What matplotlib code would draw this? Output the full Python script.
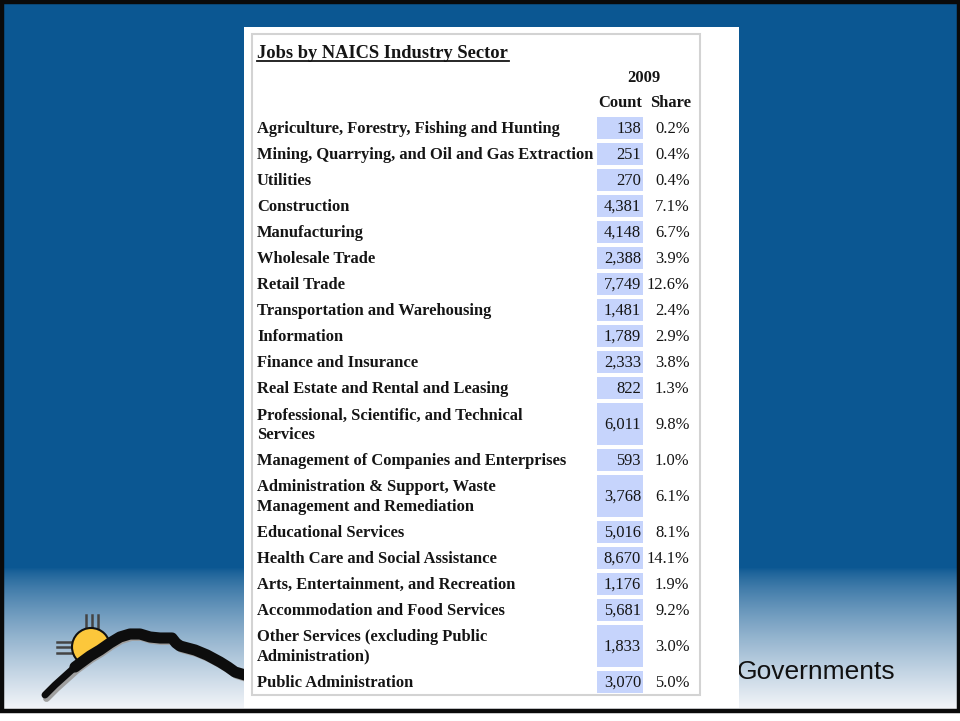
import numpy as np
import matplotlib
matplotlib.use("Agg")
import matplotlib.pyplot as plt
from matplotlib.patches import Rectangle, Circle, Polygon

# ---------------- data ----------------
title = "Jobs by NAICS Industry Sector"
year_label = "2009"
col_headers = ["Count", "Share"]
categories = [
    "Agriculture, Forestry, Fishing and Hunting",
    "Mining, Quarrying, and Oil and Gas Extraction",
    "Utilities",
    "Construction",
    "Manufacturing",
    "Wholesale Trade",
    "Retail Trade",
    "Transportation and Warehousing",
    "Information",
    "Finance and Insurance",
    "Real Estate and Rental and Leasing",
    "Professional, Scientific, and Technical\nServices",
    "Management of Companies and Enterprises",
    "Administration & Support, Waste\nManagement and Remediation",
    "Educational Services",
    "Health Care and Social Assistance",
    "Arts, Entertainment, and Recreation",
    "Accommodation and Food Services",
    "Other Services (excluding Public\nAdministration)",
    "Public Administration",
]
counts = [138, 251, 270, 4381, 4148, 2388, 7749, 1481, 1789, 2333, 822,
          6011, 593, 3768, 5016, 8670, 1176, 5681, 1833, 3070]
shares = [0.2, 0.4, 0.4, 7.1, 6.7, 3.9, 12.6, 2.4, 2.9, 3.8, 1.3,
          9.8, 1.0, 6.1, 8.1, 14.1, 1.9, 9.2, 3.0, 5.0]
footer_text = "Governments"

# ---------------- figure ----------------
W, H = 960, 721
fig = plt.figure(figsize=(W / 100, H / 100), dpi=100)
ax = fig.add_axes([0, 0, 1, 1])
ax.set_xlim(0, W)
ax.set_ylim(H, 0)
ax.axis("off")

# background: solid blue then gradient to white
blue = np.array([11, 87, 146]) / 255.0
white = np.array([246, 247, 250]) / 255.0
g0, g1 = 568, 712
grad = np.zeros((721, 1, 3))
for i, yy in enumerate(np.linspace(0, H, 721)):
    t = np.clip((yy - g0) / (g1 - g0), 0, 1) ** 0.75
    grad[i, 0] = blue * (1 - t) + white * t
ax.imshow(grad, extent=[0, W, H, 0], aspect="auto", zorder=0)
ax.add_patch(Rectangle((0, 710), W, 11, facecolor="white", edgecolor="none", zorder=1))
# black frame
ax.add_patch(Rectangle((1.5, 1.5), W - 3, 709, facecolor="none",
                       edgecolor="#0a0a0a", linewidth=3.2, zorder=2))

# logo: mountain line + sun
mx = [45, 55, 65, 75, 90, 100, 110, 120, 130, 140, 150, 160, 172, 176, 180,
      195, 207, 220, 228, 235, 245]
my = [695, 685, 676, 667, 656, 650, 643, 637, 634, 634, 637, 638, 638, 643, 646,
      650, 655, 662, 667, 672, 675]
clip_poly = Polygon(list(zip(mx, my)) + [(245, 560), (45, 560)], closed=True,
                    transform=ax.transData, facecolor="none", edgecolor="none")
ax.add_patch(clip_poly)
for dx in (-6, 0, 6):
    ax.plot([92 + dx, 92 + dx], [615, 630], color="#444444", lw=1.8, zorder=2.5)
for dy in (-5.5, 0, 5.5):
    ax.plot([57, 75], [647 + dy, 647 + dy], color="#444444", lw=1.8, zorder=2.5)
sun = Circle((91, 647), 19, facecolor="#FCC73B", edgecolor="#111111",
             linewidth=1.5, zorder=3)
ax.add_patch(sun)
sun.set_clip_path(clip_poly)
ax.plot(np.array(mx) + 1.5, np.array(my) + 3.5, color="#a0a0a0", lw=5, zorder=3,
        solid_capstyle="round")
ax.plot(mx[:4], my[:4], color="#0d0d0d", lw=5, zorder=4, solid_capstyle="round")
ax.plot(mx[3:], my[3:], color="#0d0d0d", lw=8, zorder=4, solid_capstyle="round")

ax.text(737, 672, footer_text, fontsize=19, family="Liberation Sans",
        color="#111111", ha="left", va="center", zorder=3)

# white box and panel
ax.add_patch(Rectangle((244, 27), 495, 681, facecolor="white", edgecolor="none", zorder=5))
ax.add_patch(Rectangle((252, 34), 448, 661, facecolor="white", edgecolor="#d3d3d3",
                       linewidth=1.5, zorder=6))

serif = "Liberation Serif"
fs = 11.9
txtc = "#151515"
dy_txt = 1.0

# title with underline
ax.text(257, 52 + dy_txt, title, fontsize=13.3, family=serif, weight="bold", color=txtc,
        ha="left", va="center", zorder=8)
ax.plot([257, 509], [60.5, 60.5], color=txtc, lw=1.3, zorder=8)

ax.text(644, 77 + dy_txt, year_label, fontsize=fs, family=serif, weight="bold", color=txtc,
        ha="center", va="center", zorder=8)
ax.text(620, 102 + dy_txt, col_headers[0], fontsize=fs, family=serif, weight="bold",
        color=txtc, ha="center", va="center", zorder=8)
ax.text(671, 102 + dy_txt, col_headers[1], fontsize=fs, family=serif, weight="bold",
        color=txtc, ha="center", va="center", zorder=8)

# rows
top = 115.0
for cat, c, s in zip(categories, counts, shares):
    nl = cat.count("\n") + 1
    h = 26 + 20 * (nl - 1)
    cy = top + h / 2 + dy_txt
    ax.add_patch(Rectangle((597, top + 2), 46, h - 4, facecolor="#C6D4FC",
                           edgecolor="none", zorder=7))
    ax.text(257, cy, cat, fontsize=fs, family=serif, weight="bold", color=txtc,
            ha="left", va="center", linespacing=1.26, zorder=8)
    ax.text(641, cy, f"{c:,}", fontsize=fs, family=serif, color=txtc,
            ha="right", va="center", zorder=8)
    ax.text(689.5, cy, f"{s:.1f}%", fontsize=fs, family=serif, color=txtc,
            ha="right", va="center", zorder=8)
    top += h

fig.savefig("out.png", dpi=100)
